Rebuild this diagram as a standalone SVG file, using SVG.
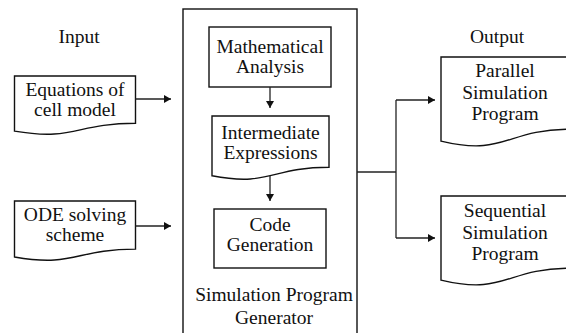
<svg xmlns="http://www.w3.org/2000/svg" width="566" height="333" viewBox="0 0 566 333">
<style>
.s{fill:#fff;stroke:#111;stroke-width:1.4}
.c{fill:none;stroke:#222;stroke-width:1.3}
.t{font-size:19.5px;fill:#111;text-anchor:middle}
</style>
<defs>
<marker id="ah" markerWidth="7" markerHeight="8" refX="7" refY="4" orient="auto" markerUnits="userSpaceOnUse">
<path d="M0,0 L7,4 L0,8 Z" fill="#111"/>
</marker>
</defs>
<rect width="566" height="333" fill="#fff"/>
<g class="t" font-family="Liberation Serif, Times New Roman, serif">
<g id="labels">
<text x="79" y="43">Input</text>
<text x="497" y="43">Output</text>
</g>
<g id="generator">
<rect class="s" x="183" y="9" width="174" height="340"/>
<text x="274" y="301">Simulation Program</text>
<text x="274" y="324">Generator</text>
</g>
<g id="equations">
<path class="s" d="M14.5,76 H135.5 V123.3 C75,123.3 75,141.3 14.5,131.1 Z"/>
<text x="75" y="96">Equations of</text>
<text x="75" y="116">cell model</text>
</g>
<g id="ode">
<path class="s" d="M14.5,201 H135.5 V249.1 C75,249.1 75,267.5 14.5,257 Z"/>
<text x="75" y="221">ODE solving</text>
<text x="75" y="241">scheme</text>
</g>
<g id="math">
<rect class="s" x="209" y="27" width="122" height="60"/>
<text x="270" y="52.5">Mathematical</text>
<text x="270" y="73">Analysis</text>
</g>
<g id="intermediate">
<path class="s" d="M212,116 H329 V167.3 C270.5,167.3 270.5,186.9 212,175.8 Z"/>
<text x="270.5" y="138.5">Intermediate</text>
<text x="270.5" y="159">Expressions</text>
</g>
<g id="code">
<rect class="s" x="214" y="209" width="112" height="59"/>
<text x="270" y="230.5">Code</text>
<text x="270" y="251">Generation</text>
</g>
<g id="parallel">
<path class="s" d="M441,57 H570 V129.2 C505.5,129.2 505.5,156.7 441,141.1 Z"/>
<text x="505" y="77">Parallel</text>
<text x="505" y="99">Simulation</text>
<text x="505" y="120">Program</text>
</g>
<g id="sequential">
<path class="s" d="M441,196 H570 V268.2 C505.5,268.2 505.5,295.7 441,280.1 Z"/>
<text x="505" y="217">Sequential</text>
<text x="505" y="239">Simulation</text>
<text x="505" y="260">Program</text>
</g>
</g>
<g id="connectors">
<path class="c" d="M135.5,99 H171" marker-end="url(#ah)"/>
<path class="c" d="M135.5,226 H171" marker-end="url(#ah)"/>
<path class="c" d="M270,87 V108" marker-end="url(#ah)"/>
<path class="c" d="M270,176 V201" marker-end="url(#ah)"/>
<path class="c" d="M357,172 H396"/>
<path class="c" d="M396,100 V238"/>
<path class="c" d="M396,100 H435" marker-end="url(#ah)"/>
<path class="c" d="M396,238 H435" marker-end="url(#ah)"/>
</g>
</svg>
